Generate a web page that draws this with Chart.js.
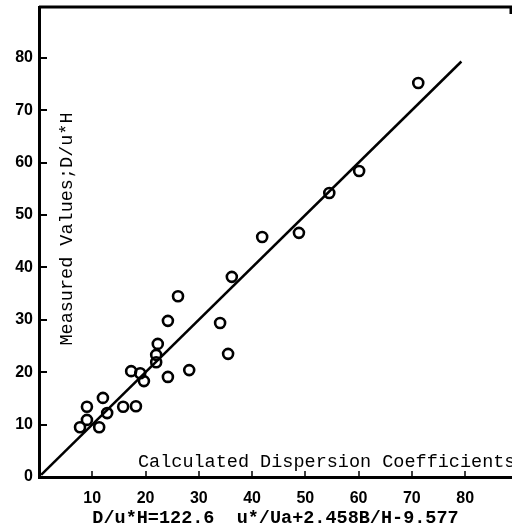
<!DOCTYPE html>
<html>
<head>
<meta charset="utf-8">
<title>Measured vs Calculated Dispersion Coefficients</title>
<script src="https://cdn.jsdelivr.net/npm/chart.js@4/dist/chart.umd.min.js"></script>
<style>
    html, body { margin: 0; padding: 0; background: #fff; overflow: hidden; }
    #wrap { width: 512px; height: 529px; position: relative; }
</style>
</head>
<body>
<div id="wrap"><canvas id="dispersionChart"></canvas></div>
<script>
// Data
const calculatedValues = [7.7, 9.0, 9.0, 11.3, 12.0, 12.8, 15.8, 18.2, 17.3, 19.0, 19.7, 22.0, 22.0,
    22.3, 24.2, 24.2, 26.1, 28.2, 34.0, 35.5, 36.2, 41.9, 48.8, 54.5, 60.1, 71.2];
const measuredValues = [9.5, 10.9, 13.4, 9.5, 15.1, 12.2, 13.4, 13.5, 20.2, 19.8, 18.3, 23.3, 21.9,
    25.4, 19.1, 29.8, 34.5, 20.4, 29.4, 23.5, 38.2, 45.8, 46.6, 54.2, 58.4, 75.2];
const fitLineX = [0.4, 79.3];
const fitLineY = [0.4, 79.3];
const xTickValues = [10, 20, 30, 40, 50, 60, 70, 80];
const yTickValues = [0, 10, 20, 30, 40, 50, 60, 70, 80];

const xAxisTitle = 'Calculated Dispersion Coefficients';
const yAxisTitle = 'Measured Values;D/u*H';
const formulaText = 'D/u*H=122.6  u*/Ua+2.458B/H-9.577';

/**
 * Draws the frame top, inward tick marks and the titles placed inside the plot
 */
const innerDecor = {
    id: 'innerDecor',
    afterDraw(chart) {
        const ctx = chart.ctx;
        const area = chart.chartArea;
        const xScale = chart.scales.x;
        const yScale = chart.scales.y;

        ctx.save();
        ctx.strokeStyle = '#000';

        // top edge of the frame
        ctx.lineWidth = 3;
        ctx.beginPath();
        ctx.moveTo(area.left, area.top);
        ctx.lineTo(area.right, area.top);
        ctx.moveTo(area.right - 1, area.top);
        ctx.lineTo(area.right - 1, area.top + 7);
        ctx.stroke();

        // inward tick marks
        ctx.lineWidth = 2;
        ctx.beginPath();
        yTickValues.slice(1).forEach(v => {
            const py = Math.round(yScale.getPixelForValue(v));
            ctx.moveTo(area.left, py);
            ctx.lineTo(area.left + 8, py);
        });
        ctx.stroke();
        ctx.lineWidth = 1.5;
        ctx.beginPath();
        xTickValues.forEach(v => {
            const px = Math.round(xScale.getPixelForValue(v));
            ctx.moveTo(px, area.bottom);
            ctx.lineTo(px, area.bottom - 6);
        });
        ctx.stroke();

        // titles inside the plot
        ctx.fillStyle = '#000';
        ctx.font = '18.5px "Liberation Mono"';
        ctx.textAlign = 'left';
        ctx.textBaseline = 'alphabetic';
        ctx.fillText(xAxisTitle, area.left + 99, area.bottom - 10);

        ctx.translate(area.left + 28, area.top + 222);
        ctx.rotate(-Math.PI / 2);
        ctx.textAlign = 'center';
        ctx.textBaseline = 'middle';
        ctx.fillText(yAxisTitle, 0, 0);
        ctx.restore();
    }
};

const points = calculatedValues.map((x, i) => ({ x: x, y: measuredValues[i] }));
const fitLine = fitLineX.map((x, i) => ({ x: x, y: fitLineY[i] }));

const ctx = document.getElementById('dispersionChart').getContext('2d');

new Chart(ctx, {
    type: 'scatter',
    data: {
        datasets: [{
            type: 'line',
            data: fitLine,
            borderColor: '#000',
            borderWidth: 2.5,
            pointRadius: 0,
            fill: false
        }, {
            data: points,
            pointStyle: 'circle',
            pointRadius: 5,
            pointBorderWidth: 2.6,
            borderColor: '#000',
            backgroundColor: 'rgba(0,0,0,0)'
        }]
    },
    options: {
        responsive: true,
        maintainAspectRatio: false,
        animation: false,
        layout: {
            autoPadding: false,
            padding: { top: 7, right: 0, bottom: 0, left: 0 }
        },
        plugins: {
            legend: { display: false },
            tooltip: { enabled: false }
        },
        scales: {
            x: {
                type: 'linear',
                min: 0,
                max: 88.8,
                afterBuildTicks: s => { s.ticks = xTickValues.map(v => ({ value: v })); },
                afterFit: s => {
                    s.height = 52;
                    s.paddingLeft = 0;
                    s.paddingRight = 0;
                },
                ticks: {
                    color: '#000',
                    padding: 12,
                    maxRotation: 0,
                    font: { family: '"Liberation Sans"', size: 16, weight: 'bold' }
                },
                grid: { display: false, drawTicks: false },
                border: { display: true, color: '#000', width: 3 },
                title: {
                    display: true,
                    text: formulaText,
                    color: '#000',
                    font: { family: '"Liberation Mono"', size: 18.5, weight: 'bold', lineHeight: 1 },
                    padding: { top: 0, bottom: 1 }
                }
            },
            y: {
                type: 'linear',
                min: 0,
                max: 89.7,
                afterBuildTicks: s => { s.ticks = yTickValues.map(v => ({ value: v })); },
                afterFit: s => {
                    s.width = 39;
                    s.paddingTop = 0;
                    s.paddingBottom = 0;
                },
                ticks: {
                    color: '#000',
                    padding: 6,
                    font: { family: '"Liberation Sans"', size: 16, weight: 'bold' }
                },
                grid: { display: false, drawTicks: false },
                border: { display: true, color: '#000', width: 3 }
            }
        }
    },
    plugins: [innerDecor]
});
</script>
</body>
</html>
